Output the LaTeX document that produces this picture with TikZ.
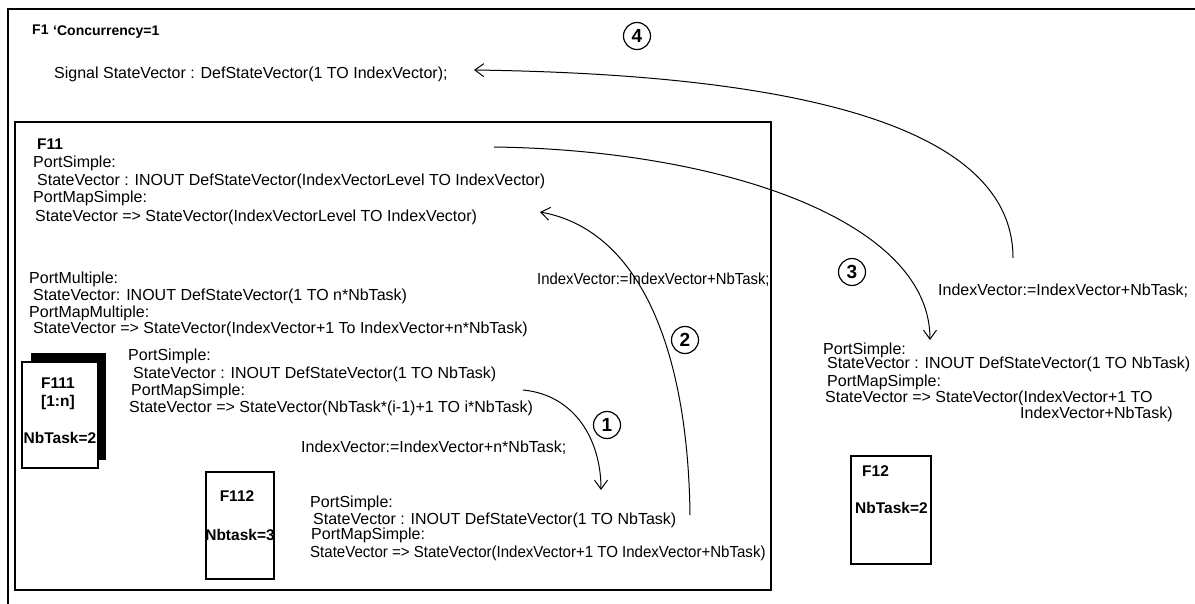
\documentclass[tikz,border=0pt]{standalone}
\usepackage{fontspec}
\setmainfont{Liberation Sans}
\usetikzlibrary{arrows.meta}
\begin{document}
\begin{tikzpicture}[x=1pt,y=-1pt,
  txt/.style={anchor=base west,inner sep=0pt,font=\fontsize{16}{18}\selectfont},
  narrow/.style={xscale=#1,transform shape},
  btxt/.style={anchor=base,inner sep=0pt,font=\fontsize{15.5}{17}\selectfont\bfseries},
  box/.style={draw,line width=1.2pt},
  num/.style={draw,circle,line width=1.2pt,minimum size=27pt,inner sep=0pt,font=\fontsize{19}{19}\selectfont\bfseries},
  arr/.style={line width=1pt,-{Straight Barb[length=9pt,width=13pt,line width=1pt]}}]
\useasboundingbox (0,0) rectangle (1195,604);
% outer frame F1
\draw[line width=1.6pt] (1195,9) -- (8,9) -- (8,604);
\node[btxt,anchor=base west,font=\fontsize{14}{16}\selectfont\bfseries] (f1) at (32,35) {F1};
\node[btxt,anchor=base west,font=\fontsize{14}{16}\selectfont\bfseries] (conc) at (53,36) {`Concurrency=1};
\node[txt] (sig) at (54,79) {Signal StateVector : DefStateVector(1 TO IndexVector);};
\node[num] (c4) at (637,36) {4};
% F11 box
\draw[box] (15,122) rectangle (771,590);
\node[btxt,anchor=base west] (f11) at (37,150) {F11};
\node[txt] (a1) at (33,168) {PortSimple:};
\node[txt] (a2) at (37,186) {StateVector : INOUT DefStateVector(IndexVectorLevel TO IndexVector)};
\node[txt] (a3) at (33,203) {PortMapSimple:};
\node[txt] (a4) at (35,222) {StateVector => StateVector(IndexVectorLevel TO IndexVector)};
\node[txt] (b1) at (29,284) {PortMultiple:};
\node[txt] (b2) at (33,301) {StateVector: INOUT DefStateVector(1 TO n*NbTask)};
\node[txt] (b3) at (29,317) {PortMapMultiple:};
\node[txt] (b4) at (33,334) {StateVector => StateVector(IndexVector+1 To IndexVector+n*NbTask)};
% F111
\fill (31,353) rectangle (106,460);
\draw[box,fill=white] (22,362) rectangle (98,468);
\node[btxt] (f111) at (58,388) {F111};
\node[btxt] (f111n) at (58,406) {[1:n]};
\node[btxt] (f111t) at (60,443) {NbTask=2};
\node[txt] (c1) at (128,360) {PortSimple:};
\node[txt] (c2) at (133,378) {StateVector : INOUT DefStateVector(1 TO NbTask)};
\node[txt] (c3) at (131,395) {PortMapSimple:};
\node[txt] (c4t) at (129,412) {StateVector => StateVector(NbTask*(i-1)+1 TO i*NbTask)};
\node[txt] (l1) at (301,452) {IndexVector:=IndexVector+n*NbTask;};
% F112
\draw[box] (206,472) rectangle (274,579);
\node[btxt] (f112) at (237,501) {F112};
\node[btxt] (f112t) at (240,540) {Nbtask=3};
\node[txt] (d1) at (310,507) {PortSimple:};
\node[txt] (d2) at (313,524) {StateVector : INOUT DefStateVector(1 TO NbTask)};
\node[txt] (d3) at (311,539) {PortMapSimple:};
\node[txt,narrow=0.94] (d4) at (310,557) {StateVector => StateVector(IndexVector+1 TO IndexVector+NbTask)};
\node[txt,narrow=0.93] (l2) at (537,285) {IndexVector:=IndexVector+NbTask;};
\node[num] (c2n) at (685,340) {2};
\node[num] (c1n) at (607,425) {1};
% right side
\node[num] (c3n) at (852,272) {3};
\node[txt] (l3) at (938,295) {IndexVector:=IndexVector+NbTask;};
\node[txt] (e1) at (823,354) {PortSimple:};
\node[txt] (e2) at (827,368) {StateVector : INOUT DefStateVector(1 TO NbTask)};
\node[txt] (e3) at (827,386) {PortMapSimple:};
\node[txt] (e4) at (825,402) {StateVector => StateVector(IndexVector+1 TO};
\node[txt] (e5) at (1020,418) {IndexVector+NbTask)};
% F12
\draw[box] (851,456) rectangle (931,564);
\node[btxt,anchor=base west] (f12) at (862,476) {F12};
\node[btxt,anchor=base west] (f12t) at (855,513) {NbTask=2};
% connectors
\coordinate (s4) at (1013,258);
\coordinate (t4) at (474,70);
\draw[arr] (s4) .. controls (1013,115) and (760,74) .. (t4);
\coordinate (s3) at (494,147);
\coordinate (t3) at (930,340);
\draw[arr] (s3) .. controls (720,150) and (930,220) .. (t3);
\coordinate (s2) at (690,515);
\coordinate (t2) at (540,212);
\draw[arr] (s2) .. controls (688,350) and (640,230) .. (t2);
\coordinate (s1) at (523,390);
\coordinate (t1) at (601,490);
\draw[arr] (s1) .. controls (575,395) and (601,440) .. (t1);
\end{tikzpicture}
\end{document}
